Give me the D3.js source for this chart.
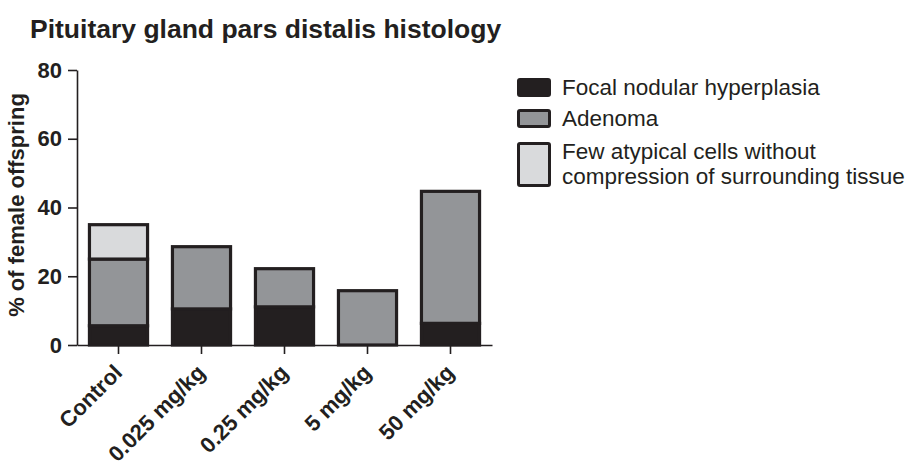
<!DOCTYPE html>
<html>
<head>
<meta charset="utf-8">
<title>Pituitary gland pars distalis histology</title>
<script src="https://cdn.jsdelivr.net/npm/d3@7"></script>
<style>
  body { margin:0; background:#fff; }
  svg { display:block; font-family:"Liberation Sans", Arial, sans-serif; }
  .axis path, .axis line { stroke:#231f20; stroke-width:1.6px; }
  .axis text { font-size:22px; font-weight:bold; fill:#231f20; }
</style>
</head>
<body>
<div id="chart"></div>
<script>
// data (% of female offspring)
var groups = ["Control", "0.025 mg/kg", "0.25 mg/kg", "5 mg/kg", "50 mg/kg"];
var focalNodular = [5.6, 10.5, 11.1, 0, 6.3];
var adenoma = [19.4, 18.1, 11.1, 15.8, 38.4];
var fewAtypical = [10, 0, 0, 0, 0];
var seriesNames = ["Focal nodular hyperplasia", "Adenoma", "Few atypical cells without|compression of surrounding tissue"];
var yTicks = [0, 20, 40, 60, 80];

var colors = ["#231f20", "#939598", "#d9dadc"];
var edge = "#231f20";

var width = 912, height = 465;
var svg = d3.select("#chart").append("svg")
  .attr("width", width).attr("height", height);

var x0 = 77, x1 = 492, yBase = 345, yTop = 70;

var xScale = d3.scaleBand().domain(groups).range([x0, x1])
  .paddingInner(0.3).paddingOuter(0.15);
var yScale = d3.scaleLinear().domain([0, 80]).range([yBase, yTop]);

// title
svg.append("text").text("Pituitary gland pars distalis histology")
  .attr("x", 30).attr("y", 38)
  .style("font-size", "26.5px").style("font-weight", "bold").style("fill", "#231f20");

// stacked bars
var rows = groups.map(function(g, i) {
  return { group: g, focal: focalNodular[i], adenoma: adenoma[i], few: fewAtypical[i] };
});
var stack = d3.stack().keys(["focal", "adenoma", "few"]);
var layers = stack(rows);

svg.append("g").selectAll("g").data(layers).enter().append("g")
  .attr("fill", function(d, i) { return colors[i]; })
  .selectAll("rect")
  .data(function(d) { return d.filter(function(s) { return s[1] - s[0] > 0; }); })
  .enter().append("rect")
  .attr("x", function(d) { return xScale(d.data.group); })
  .attr("width", xScale.bandwidth())
  .attr("y", function(d) { return yScale(d[1]); })
  .attr("height", function(d) { return yScale(d[0]) - yScale(d[1]); })
  .attr("stroke", edge).attr("stroke-width", 3.2);

// y axis
var yAxis = d3.axisLeft(yScale).tickValues(yTicks).tickSize(9).tickPadding(6).tickSizeOuter(0);
svg.append("g").attr("class", "axis")
  .attr("transform", "translate(" + x0 + ",0)")
  .call(yAxis);

// x axis
var xAxis = d3.axisBottom(xScale).tickSize(9).tickSizeOuter(0);
var xg = svg.append("g").attr("class", "axis")
  .attr("transform", "translate(0," + yBase + ")")
  .call(xAxis);
xg.selectAll(".tick text")
  .style("text-anchor", "end")
  .attr("x", 0).attr("y", 0).attr("dy", 0)
  .attr("transform", "translate(5,29) rotate(-45)");

// y label
svg.append("text").text("% of female offspring")
  .attr("transform", "translate(24,205) rotate(-90)")
  .style("text-anchor", "middle")
  .style("font-size", "22px").style("font-weight", "bold").style("fill", "#231f20");

// legend
var legY = [78, 109, 142], legH = [19, 19, 45];
var textY = [[95], [126], [159, 184]];
var leg = svg.append("g");
seriesNames.forEach(function(name, i) {
  leg.append("rect")
    .attr("x", 518.5).attr("y", legY[i] + 1.5)
    .attr("width", 31).attr("height", legH[i] - 3)
    .attr("rx", 1.5)
    .attr("fill", colors[i]).attr("stroke", edge).attr("stroke-width", 3);
  var t = leg.append("text")
    .style("font-size", "22.5px").style("fill", "#231f20");
  name.split("|").forEach(function(l, j) {
    t.append("tspan").attr("x", 562).attr("y", textY[i][j]).text(l);
  });
});
</script>
</body>
</html>
